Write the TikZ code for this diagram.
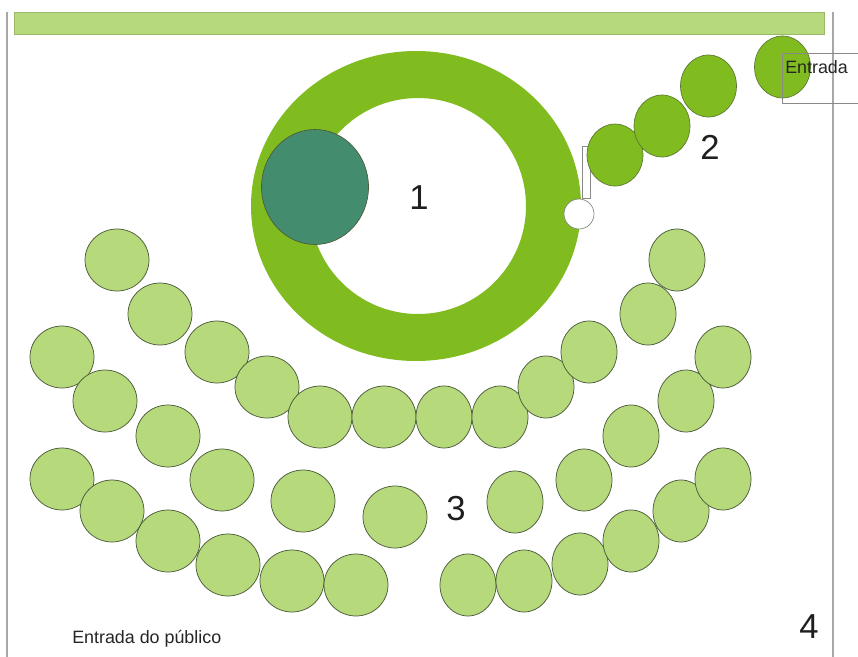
\documentclass[tikz,border=0pt]{standalone}
\usepackage{fontspec}
\setmainfont{Liberation Sans}
\definecolor{seatlight}{HTML}{B5D97B}
\definecolor{seatdark}{HTML}{80BC20}
\definecolor{centre}{HTML}{448C6E}
\definecolor{frameline}{HTML}{A8A8A8}
\definecolor{boxline}{HTML}{8A8A8A}
\definecolor{seatline}{HTML}{4A5A3A}
\tikzset{
  x=0.75pt,y=-0.75pt,
  frameedge/.style={draw=frameline,line width=0.9pt},
  thinbox/.style={draw=boxline,line width=0.5pt},
  light/.style={fill=seatlight,draw=seatline,line width=0.55pt},
  dark/.style={fill=seatdark,draw=seatline!70!seatdark,line width=0.5pt},
  biglabel/.style={font=\fontsize{26}{26}\selectfont,text=black!88,inner sep=0pt},
  smalllabel/.style={font=\fontsize{13.4}{13.4}\selectfont,text=black!85,inner sep=0pt},
}
\newcommand{\seats}[3]{\foreach \cx/\cy in {#3}{\draw[light] (\cx,\cy) ellipse[x radius=#1*0.75pt,y radius=#2*0.75pt];}}
\begin{document}
\begin{tikzpicture}
\useasboundingbox (0,0) rectangle (858,657);
\fill[white] (0,0) rectangle (858,657);
% frame
\draw[frameedge] (7,12) -- (7,657);
\draw[frameedge] (833,12) -- (833,657);
% top bar
\draw[fill=seatlight,draw=seatlight!85!black,line width=0.4pt] (14,12) rectangle (824,34);
% ring
\fill[seatdark,even odd rule] (416,206) ellipse[x radius=165*0.75pt,y radius=155*0.75pt]
  (418,206) ellipse[x radius=108*0.75pt,y radius=108*0.75pt];
\draw[fill=centre,draw=seatline,line width=0.5pt] (315,187) ellipse[x radius=53.5*0.75pt,y radius=57.5*0.75pt];
% small bracket and white circle
\draw[thinbox] (590,198) -- (582,198) -- (582,146) -- (590,146) -- cycle;
\draw[fill=white,draw=seatline!70,line width=0.5pt] (579,214) ellipse[x radius=15*0.75pt,y radius=15*0.75pt];
% stage-side seats
\foreach \cx/\cy in {615/155,662/126,708.5/86,782.5/67}{
  \draw[dark] (\cx,\cy) ellipse[x radius=28*0.75pt,y radius=31*0.75pt];}
% audience
\seats{32}{31}{117/260,160/314,217/352,267/387,320/417,384/417}
\seats{28}{31}{444/417,500/417,546/387,589/352,648/314,677/260}
\seats{32}{31}{62/357,105/401,168/436,222/480,303/501,395/517}
\seats{28}{31}{515/502,584/480,631/436,686/401,723/357}
\seats{32}{31}{62/479,112/511,168/541,228/565,292/581,356/585}
\seats{28}{31}{468/585,524/581,580/564,631/541,681/511,723/479}
% entrance box
\draw[thinbox] (858,53) -- (782,53) -- (782,103) -- (858,103);
% labels
\node[smalllabel,anchor=west] (entrada) at (785,67.5) {Entrada};
\node[smalllabel,anchor=west] (publico) at (72,638.5) {Entrada do público};
\node[biglabel] (n1) at (419,197.5) {1};
\node[biglabel] (n2) at (710,147) {2};
\node[biglabel] (n3) at (456,509) {3};
\node[biglabel] (n4) at (809,627) {4};
\end{tikzpicture}
\end{document}
